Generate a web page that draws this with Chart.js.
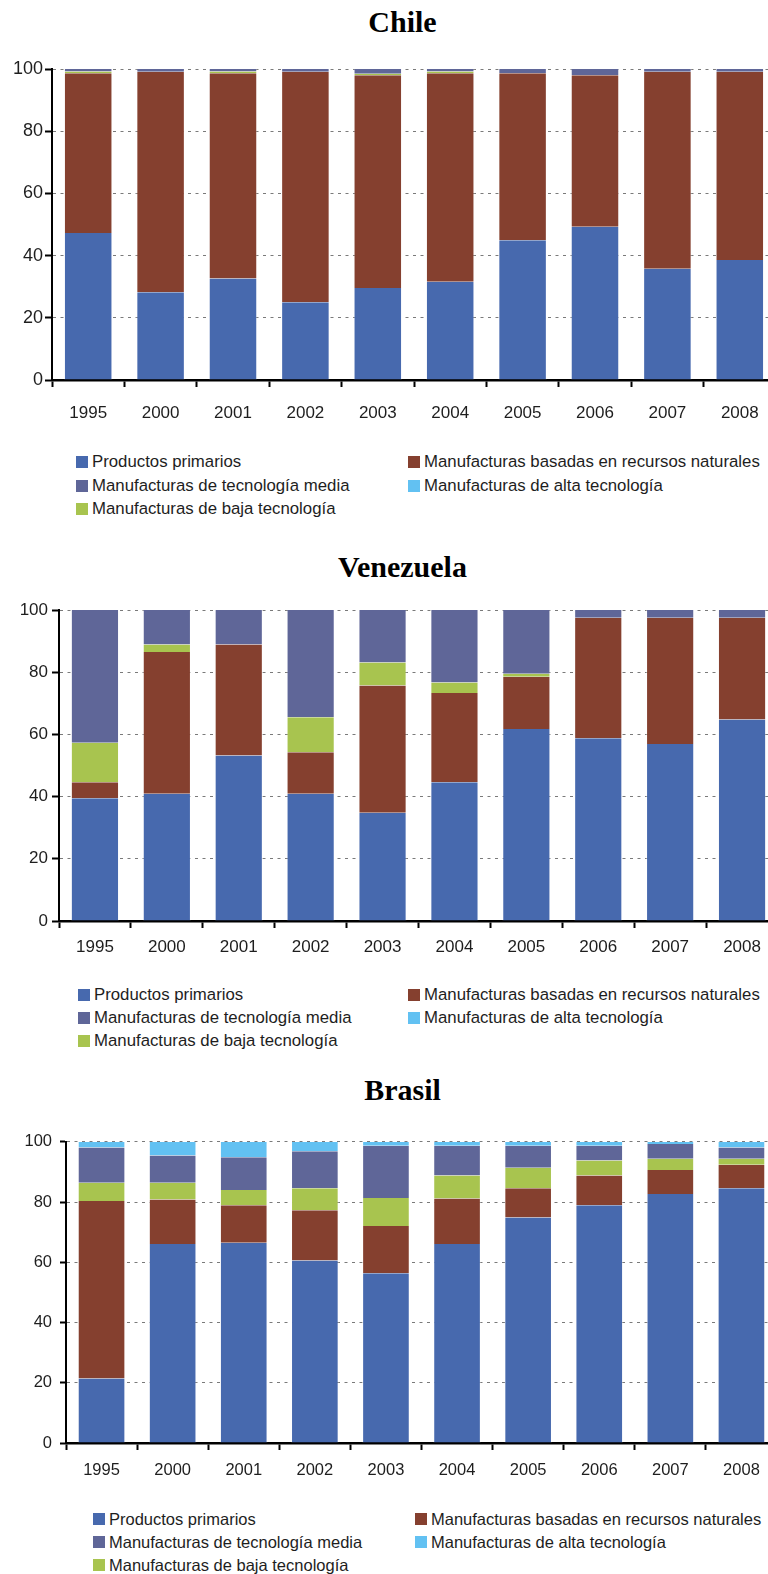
<!DOCTYPE html>
<html>
<head>
<meta charset="utf-8">
<script src="https://cdn.jsdelivr.net/npm/chart.js@4.4.1/dist/chart.umd.min.js"></script>
<style>
  html, body { margin: 0; padding: 0; background: #fff; overflow: hidden; width: 768px; height: 1574px; }
  .title { position: absolute; left: 0; width: 805px; text-align: center; font-family: "Liberation Serif", "Times New Roman", serif; font-weight: bold; font-size: 30px; line-height: 36px; color: #000; }
  canvas { position: absolute; left: 0; }
  .legend { position: absolute; left: 0; top: 0; font-family: "Liberation Sans", Arial, sans-serif; color: #1e1e1e; }
  .legend .item { position: absolute; white-space: nowrap; display: flex; align-items: center; height: 20px; }
  .legend .box { width: 12px; height: 12px; margin-right: 4px; flex: none; }
</style>
</head>
<body>

<div class="title" style="top:4px">Chile</div>
<canvas id="chile"></canvas>
<div class="legend" id="legend-chile"></div>

<div class="title" style="top:549px">Venezuela</div>
<canvas id="venezuela"></canvas>
<div class="legend" id="legend-venezuela"></div>

<div class="title" style="top:1072px">Brasil</div>
<canvas id="brasil"></canvas>
<div class="legend" id="legend-brasil"></div>

<script>
// categories and tick labels
const years = ['1995', '2000', '2001', '2002', '2003', '2004', '2005', '2006', '2007', '2008'];
const yTicks = [0, 20, 40, 60, 80, 100];

// series names (legend order) and colours
const seriesNames = [
  'Productos primarios',
  'Manufacturas basadas en recursos naturales',
  'Manufacturas de tecnología media',
  'Manufacturas de alta tecnología',
  'Manufacturas de baja tecnología'
];
const seriesColors = ['#4769ae', '#85402f', '#5f6698', '#62c1f2', '#a8c44f'];
// stacking from the bottom: primarios, recursos, baja, media, alta
const stackOrder = [0, 1, 4, 2, 3];

// Chile (% of exports)
const chilePrimarios = [47.3, 28.2, 32.6, 25.0, 29.6, 31.6, 44.9, 49.3, 35.8, 38.6];
const chileRecursos  = [51.3, 70.9, 66.0, 74.1, 68.4, 67.0, 53.7, 48.7, 63.3, 60.5];
const chileMedia     = [0.8, 0.9, 0.8, 0.9, 1.5, 0.8, 1.4, 2.0, 0.9, 0.9];
const chileAlta      = [0, 0, 0, 0, 0, 0, 0, 0, 0, 0];
const chileBaja      = [0.6, 0, 0.6, 0, 0.5, 0.6, 0, 0, 0, 0];

// Venezuela
const venPrimarios = [39.5, 40.9, 53.2, 40.9, 34.8, 44.6, 61.7, 58.8, 56.9, 64.8];
const venRecursos  = [5.1, 45.6, 35.7, 13.4, 40.9, 28.7, 16.8, 38.7, 40.6, 32.7];
const venMedia     = [42.7, 11.1, 11.1, 34.5, 16.9, 23.3, 20.5, 2.5, 2.5, 2.5];
const venAlta      = [0, 0, 0, 0, 0, 0, 0, 0, 0, 0];
const venBaja      = [12.7, 2.4, 0, 11.2, 7.4, 3.4, 1.0, 0, 0, 0];

// Brasil
const braPrimarios = [21.4, 66.1, 66.5, 60.6, 56.4, 66.1, 74.9, 79.0, 82.7, 84.6];
const braRecursos  = [59.0, 14.8, 12.5, 16.7, 15.7, 15.1, 9.7, 9.8, 8.0, 7.8];
const braMedia     = [11.7, 9.1, 10.9, 12.3, 17.3, 9.9, 7.3, 4.9, 4.9, 3.7];
const braAlta      = [1.9, 4.5, 5.1, 3.1, 1.3, 1.3, 1.3, 1.3, 0.7, 1.9];
const braBaja      = [6.0, 5.5, 5.0, 7.3, 9.3, 7.6, 6.8, 5.0, 3.7, 2.0];

const FONT = '"Liberation Sans", Arial, sans-serif';
const CANVAS_W = 805;
const PAD_TOP = 15;
const X_AXIS_H = 48;

function makeChart(id, series, geo) {
  const canvas = document.getElementById(id);
  const h = geo.bottom - geo.top + PAD_TOP + X_AXIS_H;
  canvas.width = CANVAS_W;
  canvas.height = h;
  canvas.style.top = (geo.top - PAD_TOP) + 'px';

  new Chart(canvas, {
    type: 'bar',
    data: {
      labels: years,
      datasets: stackOrder.map(i => ({
        label: seriesNames[i],
        data: series[i],
        backgroundColor: seriesColors[i],
        borderColor: 'rgba(255,255,255,0.35)',
        borderWidth: { left: 1, right: 1, top: 0, bottom: 0 },
        categoryPercentage: 1,
        barPercentage: 0.67
      }))
    },
    options: {
      responsive: false,
      animation: false,
      layout: { padding: { top: PAD_TOP, right: CANVAS_W - geo.right, bottom: 0, left: 0 } },
      plugins: { legend: { display: false }, tooltip: { enabled: false } },
      scales: {
        x: {
          stacked: true,
          z: 1,
          grid: { display: true, drawOnChartArea: false, offset: true, tickLength: 7, tickWidth: 2, tickColor: '#000' },
          border: { color: '#000', width: 2.5 },
          ticks: { color: '#1e1e1e', font: { family: FONT, size: geo.xFont }, padding: geo.xPad, maxRotation: 0, autoSkip: false },
          afterFit: s => { s.height = X_AXIS_H; }
        },
        y: {
          stacked: true,
          min: 0,
          max: 100,
          afterBuildTicks: s => { s.ticks = yTicks.map(v => ({ value: v })); },
          ticks: { color: '#1e1e1e', font: { family: FONT, size: geo.yFont }, padding: geo.yPad },
          grid: { color: '#7a7a7a', lineWidth: 1, tickColor: '#000', tickWidth: 2, tickLength: geo.yTick },
          border: { color: '#000', width: 2, dash: [3, 4.5] },
          afterFit: s => { s.width = geo.axisX; }
        }
      }
    }
  });
}

function makeLegend(id, geo) {
  const el = document.getElementById(id);
  el.style.fontSize = geo.legFont + 'px';
  // two columns: left gets items 0,2,4 ; right gets 1,3
  seriesNames.forEach((name, i) => {
    const col = i % 2;
    const row = Math.floor(i / 2);
    const item = document.createElement('div');
    item.className = 'item';
    item.style.left = (col === 0 ? geo.legLeft : geo.legRight) + 'px';
    item.style.top = (geo.legTop + row * geo.legStep - 10) + 'px';
    const box = document.createElement('span');
    box.className = 'box';
    box.style.background = seriesColors[i];
    const txt = document.createElement('span');
    txt.textContent = name;
    item.appendChild(box);
    item.appendChild(txt);
    el.appendChild(item);
  });
}

const chileGeo = { top: 69, bottom: 380, axisX: 52, right: 776, yTick: 7, yPad: 2, xPad: 16, yFont: 18, xFont: 17,
  legLeft: 76, legRight: 408, legTop: 462, legStep: 23.5, legFont: 16.8 };
const venGeo = { top: 610, bottom: 921, axisX: 59, right: 778, yTick: 7, yPad: 4, xPad: 9, yFont: 17, xFont: 17,
  legLeft: 78, legRight: 408, legTop: 995, legStep: 23, legFont: 16.8 };
const braGeo = { top: 1139, bottom: 1443, axisX: 66, right: 777, yTick: 6, yPad: 8, xPad: 11, yFont: 16.5, xFont: 16.5,
  legLeft: 93, legRight: 415, legTop: 1519, legStep: 23, legFont: 16.5 };

makeChart('chile', [chilePrimarios, chileRecursos, chileMedia, chileAlta, chileBaja], chileGeo);
makeChart('venezuela', [venPrimarios, venRecursos, venMedia, venAlta, venBaja], venGeo);
makeChart('brasil', [braPrimarios, braRecursos, braMedia, braAlta, braBaja], braGeo);

makeLegend('legend-chile', chileGeo);
makeLegend('legend-venezuela', venGeo);
makeLegend('legend-brasil', braGeo);
</script>
</body>
</html>
